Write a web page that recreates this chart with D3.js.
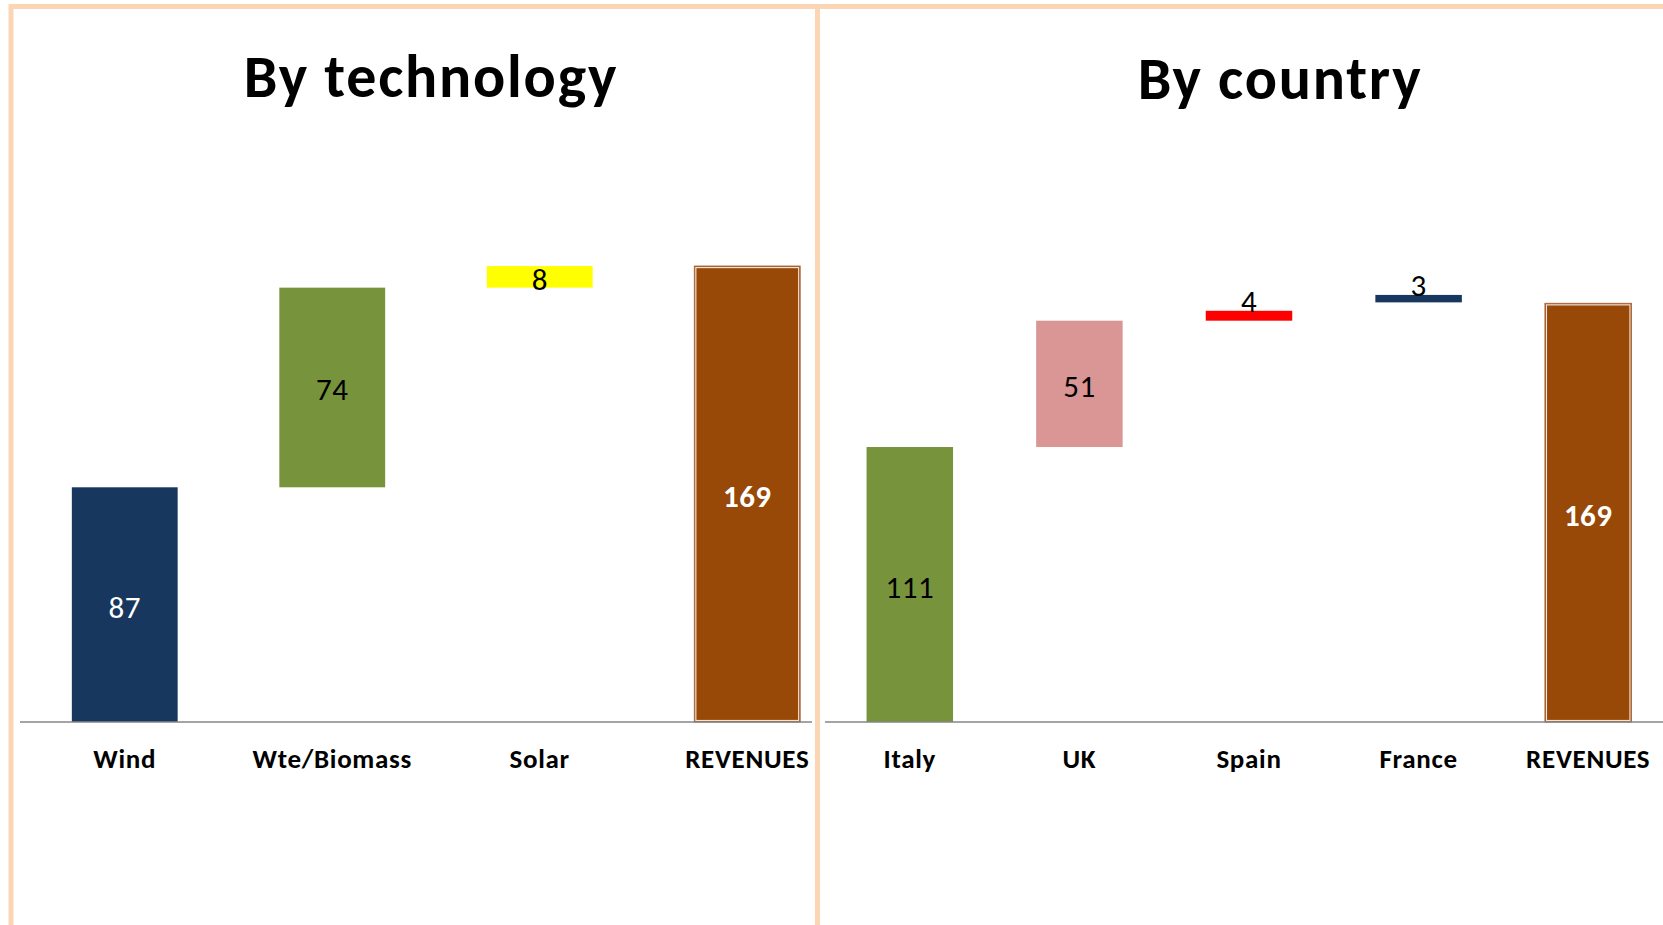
<!DOCTYPE html>
<html lang="en">
<head>
<meta charset="UTF-8" />
<title>Revenues waterfall</title>
<script src="https://cdn.jsdelivr.net/npm/d3@7"></script>
<style>
  body { margin: 0; background: #fff; overflow: hidden; }
  text { font-family: Carlito, Calibri, Lato, sans-serif; }
</style>
</head>
<body>
<div id="chart"></div>
<script>
// technology breakdown (base = invisible stacked series of the waterfall)
const techCategories = ["Wind", "Wte/Biomass", "Solar", "REVENUES"];
const techValues = [87, 74, 8, 169];
const techBase = [0, 87, 161, 0];
const techColors = ["#17375E", "#77933C", "#FFFF00", "#984807"];
const techLabelColors = ["#fff", "#000", "#000", "#fff"];

// country breakdown
const countryCategories = ["Italy", "UK", "Spain", "France", "REVENUES"];
const countryValues = [111, 51, 4, 3, 169];
const countryBase = [0, 111, 162, 169.4, 0];
const countryColors = ["#77933C", "#D99694", "#FF0000", "#17375E", "#984807"];
const countryLabelColors = ["#000", "#000", "#000", "#000", "#fff"];

const w = 1663, h = 925;
const border = "#FCD5B5";

const svg = d3.select("#chart").append("svg")
    .attr("width", w)
    .attr("height", h);

svg.append("defs").append("clipPath")
    .attr("id", "leftClip")
    .append("rect")
    .attr("x", 0).attr("y", 0)
    .attr("width", 815).attr("height", h);

function drawPanel(g, cfg) {
    const rows = cfg.cats.map((c, i) => ({
        cat: c, val: cfg.vals[i],
        y0: cfg.base[i], y1: cfg.base[i] + cfg.vals[i],
        total: c === "REVENUES",
        color: cfg.colors[i], lc: cfg.labelColors[i]
    }));

    const x = d3.scaleBand(cfg.cats, cfg.xRange)
        .paddingInner(0.49)
        .paddingOuter(0.245);
    const y = d3.scaleLinear([0, 180], cfg.yRange);

    g.append("text")
        .attr("x", cfg.titleX)
        .attr("y", cfg.titleY)
        .attr("text-anchor", "middle")
        .style("font-size", "60px")
        .style("font-weight", "bold")
        .style("letter-spacing", "1.8px")
        .text(cfg.title);

    g.selectAll("rect.bar")
        .data(rows)
        .enter()
        .append("rect")
        .attr("class", "bar")
        .attr("x", d => x(d.cat))
        .attr("y", d => y(d.y1))
        .attr("width", x.bandwidth())
        .attr("height", d => y(d.y0) - y(d.y1))
        .attr("fill", d => d.color);

    // outline on the total bar
    g.selectAll("rect.outline")
        .data(rows.filter(d => d.total))
        .enter()
        .append("rect")
        .attr("class", "outline")
        .attr("x", d => x(d.cat) + 1.5)
        .attr("y", d => y(d.y1) + 1.5)
        .attr("width", x.bandwidth() - 3)
        .attr("height", d => y(d.y0) - y(d.y1) - 3)
        .attr("fill", "none")
        .attr("stroke", "#fff")
        .attr("stroke-opacity", 0.85)
        .attr("stroke-width", 1.2);
    g.selectAll("rect.outer")
        .data(rows.filter(d => d.total))
        .enter()
        .append("rect")
        .attr("class", "outer")
        .attr("x", d => x(d.cat))
        .attr("y", d => y(d.y1))
        .attr("width", x.bandwidth())
        .attr("height", d => y(d.y0) - y(d.y1))
        .attr("fill", "none")
        .attr("stroke", "#B0683A")
        .attr("stroke-width", 1);

    // axis
    const axis = g.append("g")
        .attr("transform", "translate(0," + y(0) + ")")
        .call(d3.axisBottom(x).tickSize(0).tickPadding(26.5));
    axis.select(".domain")
        .attr("d", "M" + cfg.axisX[0] + ",0H" + cfg.axisX[1])
        .attr("stroke", "#868686")
        .attr("stroke-width", 1.5);
    axis.selectAll(".tick text")
        .style("font-family", "Carlito, Calibri, Lato, sans-serif")
        .style("font-size", "27px")
        .style("font-weight", "bold")
        .style("letter-spacing", "0.7px")
        .attr("fill", "#000");

    // data labels
    g.selectAll("text.lbl")
        .data(rows)
        .enter()
        .append("text")
        .attr("class", "lbl")
        .attr("x", d => x(d.cat) + x.bandwidth() / 2)
        .attr("y", d => {
            const hgt = y(d.y0) - y(d.y1);
            if (hgt < 15) return y(d.y1) + 1;
            return (y(d.y0) + y(d.y1)) / 2 + 13;
        })
        .attr("text-anchor", "middle")
        .style("font-size", "31px")
        .style("letter-spacing", "0.5px")
        .style("font-weight", d => d.total ? "bold" : "normal")
        .attr("fill", d => d.lc)
        .text(d => d.val);
}

const left = svg.append("g").attr("clip-path", "url(#leftClip)");
drawPanel(left, {
    title: "By technology", titleX: 431, titleY: 97,
    cats: techCategories, vals: techValues, base: techBase,
    colors: techColors, labelColors: techLabelColors,
    xRange: [21, 851], yRange: [722, 236.4], axisX: [20, 812]
});

const right = svg.append("g");
drawPanel(right, {
    title: "By country", titleX: 1280, titleY: 99,
    cats: countryCategories, vals: countryValues, base: countryBase,
    colors: countryColors, labelColors: countryLabelColors,
    xRange: [825, 1673], yRange: [722, 276.1], axisX: [825, 1663]
});

// panel frames
svg.append("rect")
    .attr("x", 11).attr("y", 6.5)
    .attr("width", 806.5).attr("height", h + 20)
    .attr("fill", "none")
    .attr("stroke", border)
    .attr("stroke-width", 5);
svg.append("line")
    .attr("x1", 817.5).attr("x2", w + 5)
    .attr("y1", 6.5).attr("y2", 6.5)
    .attr("stroke", border)
    .attr("stroke-width", 5);
</script>
</body>
</html>
